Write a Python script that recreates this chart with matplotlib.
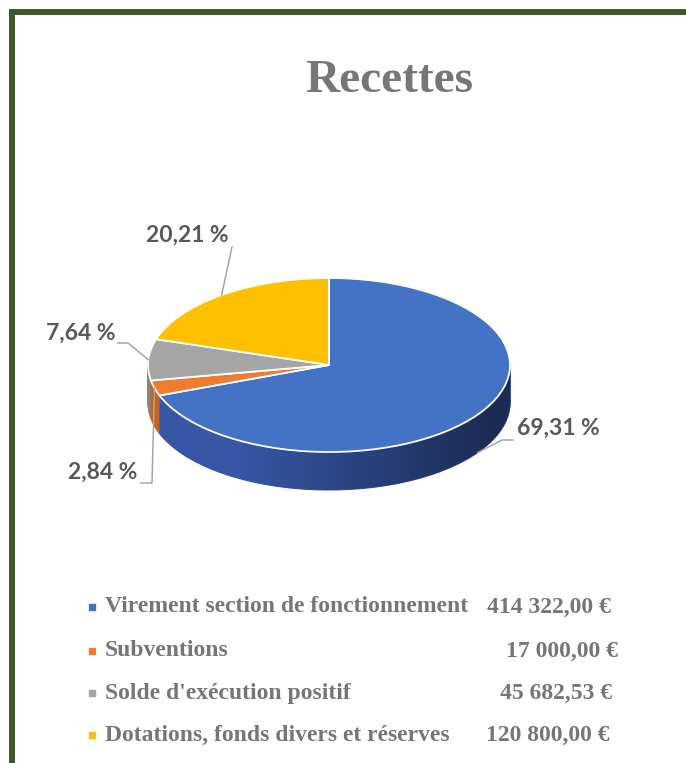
import numpy as np
import matplotlib.pyplot as plt
from matplotlib.patches import Rectangle, Polygon

# --- data ---
labels = ["Virement section de fonctionnement", "Subventions",
          "Solde d'exécution positif", "Dotations, fonds divers et réserves"]
amounts = [414322.00, 17000.00, 45682.53, 120800.00]
amount_text = ["414 322,00 €", "17 000,00 €", "45 682,53 €", "120 800,00 €"]
colors = ["#4472c4", "#ed7d31", "#a5a5a5", "#ffc000"]
side_colors = ["#3756a6", "#c8621f", "#858585", "#d49f00"]

W, H = 686, 763
fig = plt.figure(figsize=(W / 100, H / 100), dpi=100)

# --- pie geometry (pixels) ---
cx, cy, rx, ry, depth_px = 329, 365, 181, 87, 38
xlim = (-1.6, 1.6)
ylim = (-1.8, 1.4)
ax_w = (xlim[1] - xlim[0]) * rx
ax_h = (ylim[1] - ylim[0]) * ry
left = cx + xlim[0] * rx
top = cy - ylim[1] * ry
ax = fig.add_axes([left / W, 1 - (top + ax_h) / H, ax_w / W, ax_h / H])
depth = depth_px / ry


def to_data(px, py):
    return (px - cx) / rx, (cy - py) / ry


# side of the 3d pie: stacked layers
for off in np.linspace(-depth, 0, 40)[:-1]:
    ws, _ = ax.pie(amounts, colors=side_colors, startangle=90, counterclock=False,
                   center=(0, off), wedgeprops=dict(linewidth=0.8))
    for w in ws:
        w.set_edgecolor(w.get_facecolor())

# shading on the side band
t = np.linspace(np.pi, 2 * np.pi, 200)
band = np.vstack([np.c_[np.cos(t), np.sin(t)],
                  np.c_[np.cos(t[::-1]), np.sin(t[::-1]) - depth]])
clip = Polygon(band, closed=True, facecolor="none", edgecolor="none")
ax.add_patch(clip)
xs = np.linspace(-1, 1, 256)
grad = np.zeros((1, 256, 4))
grad[..., 3] = np.clip((xs + 0.5) / 1.4, 0, 1) * 0.5
im = ax.imshow(grad, extent=(-1, 1, -1 - depth, 0), aspect="auto", zorder=1.5)
im.set_clip_path(clip)

# top face
wedges, _ = ax.pie(amounts, colors=colors, startangle=90, counterclock=False,
                   wedgeprops=dict(edgecolor="white", linewidth=1.3))
for w in wedges:
    w.set_zorder(2)

ax.set_xlim(*xlim)
ax.set_ylim(*ylim)
ax.set_aspect("auto")
ax.axis("off")

# --- percentage labels ---
total = sum(amounts)
pcts = [f"{100 * a / total:.2f}".replace(".", ",") + " %" for a in amounts]
# text x, text y, align, elbow points (pixels)
label_layout = [
    (517, 428, "left", [(513, 440), (502, 440)]),
    (137, 472, "right", [(141, 483), (152, 483)]),
    (115, 333, "right", [(118, 343), (128, 343)]),
    (229, 235, "right", [(232, 247)]),
]
for w, p, (tx, ty, ha, elbow) in zip(wedges, pcts, label_layout):
    mid = np.deg2rad((w.theta1 + w.theta2) / 2)
    axx, axy = np.cos(mid), np.sin(mid)
    if axy < -0.3:
        axy -= depth
    pts = [to_data(*e) for e in elbow] + [(axx, axy)]
    ax.plot([q[0] for q in pts], [q[1] for q in pts], color="#a6a6a6",
            lw=1.1, zorder=3, clip_on=False)
    fig.text(tx / W, 1 - ty / H, p, ha=ha, va="center", fontsize=16.5,
             fontweight="bold", family="Lato", color="#595959")

# --- title ---
fig.text(389 / W, 1 - 81 / H, "Recettes", ha="center", va="center",
         fontsize=34, fontweight="bold", family="Liberation Serif", color="#767676")

# --- legend ---
rows_y = [607, 651, 693, 735]
value_x = [487, 506, 500, 486]
for lab, val, c, y, vx in zip(labels, amount_text, colors, rows_y, value_x):
    fig.add_artist(Rectangle((89 / W, 1 - (y + 3) / H), 6 / W, 6 / H,
                             transform=fig.transFigure, color=c))
    fig.text(105 / W, 1 - y / H, lab, ha="left", va="center", fontsize=17,
             fontweight="bold", family="Liberation Serif", color="#767676")
    fig.text(vx / W, 1 - y / H, val, ha="left", va="center", fontsize=17,
             fontweight="bold", family="Liberation Serif", color="#767676")

# --- frame ---
fig.add_artist(Rectangle((12 / W, -0.05), 1.1, (H - 12) / H + 0.05, fill=False,
                         edgecolor="#3a5a2b", linewidth=4.3,
                         transform=fig.transFigure))

fig.savefig("out.png", dpi=100)
